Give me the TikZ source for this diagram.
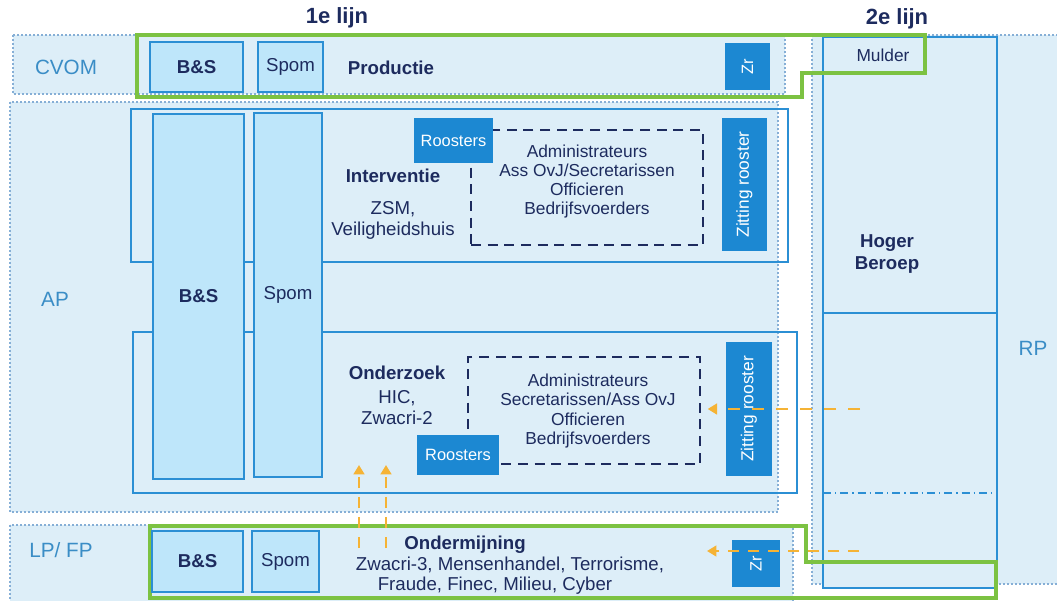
\documentclass[tikz,border=0pt]{standalone}
\usepackage{fontspec}
\setmainfont{Liberation Sans}
\usetikzlibrary{fit}
\usetikzlibrary{arrows.meta}

\definecolor{regfill}{HTML}{DDEEF8}
\definecolor{unitfill}{HTML}{BEE6FA}
\definecolor{dotblue}{HTML}{86AFD6}
\definecolor{lineblue}{HTML}{2B8FD4}
\definecolor{darkblue}{HTML}{1C88D2}
\definecolor{navy}{HTML}{1D2B5E}
\definecolor{labelblue}{HTML}{3A8DC6}
\definecolor{lijngreen}{HTML}{7CC242}
\definecolor{flowor}{HTML}{F5B335}

\newcommand{\fsKop}{\fontsize{16.5}{19}\selectfont\bfseries}
\newcommand{\fsRegion}{\fontsize{15.5}{18}\selectfont}
\newcommand{\fsBold}{\fontsize{14}{16}\selectfont\bfseries}
\newcommand{\fsReg}{\fontsize{14}{15.75}\selectfont}
\newcommand{\fsMid}{\fontsize{13}{14.4}\selectfont}
\newcommand{\fsSmall}{\fontsize{12.3}{14}\selectfont}

\tikzset{
  region/.style = {fill=regfill, draw=dotblue, line width=1.2pt, dash pattern=on 1.2pt off 1.8pt},
  frame/.style = {draw=lineblue, line width=1.4pt, inner sep=0pt},
  unit/.style = {frame, fill=unitfill},
  dark/.style = {fill=darkblue, draw=none, inner sep=0pt},
  dashbox/.style = {draw=navy, line width=1.5pt, dash pattern=on 7.5pt off 5pt, inner sep=0pt},
  lijn/.style = {draw=lijngreen, line width=2.4pt, line join=miter},
  reglbl/.style = {text=labelblue, font=\fsRegion, inner sep=0pt},
  txt/.style = {text=navy, font=\fsReg, align=center, inner sep=0pt},
  kop/.style = {text=navy, font=\fsBold, align=center, inner sep=0pt},
  wit/.style = {text=white, font=\fsSmall, inner sep=0pt},
  flow/.style = {draw=flowor, line width=2.2pt, dash pattern=on 9pt off 9pt,
                 -{Triangle[length=7pt,width=8pt]}},
}

\begin{document}
\begin{tikzpicture}[x=0.75pt, y=-0.75pt]
  \useasboundingbox (0,0) rectangle (1057,600);

  % regions
  \draw[region] (13,35) rectangle (785,94);
  \draw[region] (10,102) rectangle (778,512);
  \draw[region] (10,525) rectangle (793,606);
  \draw[region] (812,35) rectangle (1064,584);

  \node[text=navy, font=\fsKop] (kop1) at (337,18) {1e lijn};
  \node[text=navy, font=\fsKop] (kop2) at (897,19) {2e lijn};

  \node[reglbl] (cvom) at (66,67) {CVOM};
  \node[reglbl] (ap) at (55,299) {AP};
  \node[reglbl] (lpfp) at (61,550) {LP/ FP};
  \node[reglbl] (rp) at (1033,348) {RP};

  % 2e lijn
  \node[frame, fill=regfill, fit={(823,37) (997,588)}] (hb) {};
  \draw[frame] (823,313) -- (997,313);
  \draw[draw=lineblue, line width=1pt, dash pattern=on 6pt off 3pt on 1pt off 3pt] (823,493) -- (997,493);
  \node[kop] (hoger) at (887,254) {Hoger\\Beroep};

  % lijn kaders
  \draw[lijn] (137,35) -- (925,35) -- (925,73) -- (802,73) -- (802,97) -- (137,97) -- cycle;
  \draw[lijn] (150,526) -- (806,526) -- (806,562) -- (996,562) -- (996,598) -- (150,598) -- cycle;
  \node[text=navy, font=\fsMid] (mulder) at (883,55) {Mulder};

  % CVOM
  \node[unit, fit={(150,42) (243,92)}] (bsTop) {};
  \node[kop] at (bsTop) {B\&S};
  \node[unit, fit={(258,42) (323,92)}] (spTop) {};
  \node[txt] at (spTop) {Spom};
  \node[kop] (prod) at (391,68) {Productie};
  \node[dark, fit={(725,43) (770,90)}] (zrTop) {};
  \node[wit, rotate=90] at (zrTop) {Zr};

  % AP
  \node[frame, fit={(131,109) (788,262)}] (interv) {};
  \node[frame, fit={(133,332) (797,493)}] (onderz) {};
  \node[unit, fit={(153,114) (244,479)}] (bsAP) {};
  \node[kop] at (bsAP) {B\&S};
  \node[unit, fit={(254,113) (322,477)}] (spAP) {};
  \node[txt] at (spAP) {Spom};

  \node[kop] (intLbl) at (393,176) {Interventie};
  \node[txt] (zsm) at (393,220.5) {ZSM,\\Veiligheidshuis};
  \node[dashbox, fit={(471,130) (703,245)}] (dashInt) {};
  \node[txt, font=\fsMid] (admInt) at (587,181.5)
    {Administrateurs\\Ass OvJ/Secretarissen\\Officieren\\Bedrijfsvoerders};
  \node[dark, fit={(414,118) (493,163)}] (roostInt) {};
  \node[wit] at (roostInt) {Roosters};
  \node[dark, fit={(722,118) (767,251)}] (zitInt) {};
  \node[wit, font=\fsMid, rotate=90] at (zitInt) {Zitting rooster};

  \node[kop] (ondLbl) at (397,373) {Onderzoek};
  \node[txt] (hic) at (397,407.5) {HIC,\\Zwacri-2};
  \node[dashbox, fit={(468,357) (700,464)}] (dashOnd) {};
  \node[txt, font=\fsMid] (admOnd) at (588,411)
    {Administrateurs\\Secretarissen/Ass OvJ\\Officieren\\Bedrijfsvoerders};
  \node[dark, fit={(417,435) (499,475)}] (roostOnd) {};
  \node[wit] at (roostOnd) {Roosters};
  \node[dark, fit={(726,342) (772,476)}] (zitOnd) {};
  \node[wit, font=\fsMid, rotate=90] at (zitOnd) {Zitting rooster};

  % LP/FP
  \node[unit, fit={(152,531) (243,592)}] (bsBot) {};
  \node[kop] at (bsBot) {B\&S};
  \node[unit, fit={(252,531) (319,592)}] (spBot) {};
  \node[txt] at (spBot) {Spom};
  \node[kop] (ondm) at (465,545) {Ondermijning};
  \node[txt] (ondm1) at (510,565) {Zwacri-3, Mensenhandel, Terrorisme,};
  \node[txt] (ondm2) at (495,586) {Fraude, Finec, Milieu, Cyber};
  \node[dark, fit={(732,540) (780,587)}] (zrBot) {};
  \node[wit, rotate=90] at (zrBot) {Zr};

  % stromen
  \coordinate (hbIn) at (860,409);
  \coordinate (hbLow) at (859,551);
  \coordinate (lowEnd) at (707,551);
  \coordinate (up1) at (359,548);
  \coordinate (up2) at (386,548);
  \draw[flow] (hbIn) -- (hbIn -| dashOnd.east) [shorten >=5pt];
  \draw[flow, line width=1.6pt, dash pattern=on 8pt off 7pt] (hbLow) -- (lowEnd);
  \draw[flow, line width=1.9pt, dash pattern=on 8pt off 7pt] (up1) -- (up1 |- 0,465);
  \draw[flow, line width=1.9pt, dash pattern=on 8pt off 7pt] (up2) -- (up2 |- 0,465);
\end{tikzpicture}
\end{document}
